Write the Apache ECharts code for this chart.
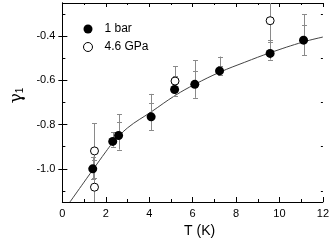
<!DOCTYPE html>
<html><head><meta charset="utf-8">
<script src="https://cdn.jsdelivr.net/npm/echarts@6/dist/echarts.min.js"></script>
<style>html,body{margin:0;padding:0;background:#fff}#c{width:332px;height:243px}</style>
</head><body><div id="c"></div>
<script>
// 1 bar (filled circles)
const filledT  = [1.40, 2.32, 2.59, 4.09, 5.17, 6.10, 7.24, 9.57, 11.11];
const filledV  = [-1.000, -0.876, -0.849, -0.765, -0.641, -0.618, -0.557, -0.478, -0.418];
const filledLo = [-1.048, -0.900, -0.913, -0.826, -0.669, -0.679, -0.575, -0.506, -0.486];
const filledHi = [-0.945, -0.835, -0.753, -0.661, -0.580, -0.509, -0.492, -0.417, -0.300];
const filledMid = [null, null, -0.790, -0.703, null, -0.558, -0.533, null, -0.351];
// 4.6 GPa (open circles)
const openT  = [1.48, 1.48, 5.19, 9.57];
const openV  = [-0.919, -1.083, -0.603, -0.330];
const openLo = [-1.040, -1.200, -0.669, -0.426];
const openHi = [-0.793, -0.960, -0.536, -0.200];
// fit curve
const fitT = [0.35, 1.0, 1.4, 2.0, 2.3, 3.0, 4.1, 5.2, 6.1, 7.25, 8.4, 9.57, 11.1, 12.0];
const fitV = [-1.150, -1.060, -1.005, -0.923, -0.885, -0.815, -0.742, -0.668, -0.618, -0.563, -0.518, -0.475, -0.426, -0.404];
// ticks
const xMajor = [0, 2, 4, 6, 8, 10, 12];
const yMajor = [-1.0, -0.8, -0.6, -0.4];
const yMinor = [-1.1, -0.9, -0.7, -0.5, -0.3];

const chart = echarts.init(document.getElementById('c'), null, {renderer: 'canvas'});
const FONT = 'Liberation Sans';
const ebColor = '#8a8a8a';

function ebRender(T, Lo, Hi, Mid) {
  return function (params, api) {
    const i = params.dataIndex;
    const cs = params.coordSys;
    const top = cs.y, bot = cs.y + cs.height;
    const pLo = api.coord([T[i], Lo[i]]);
    const pHi = api.coord([T[i], Hi[i]]);
    const x = Math.round(pLo[0]) + 0.5;
    const yl = Math.min(bot, Math.max(top, pLo[1]));
    const yh = Math.min(bot, Math.max(top, pHi[1]));
    const st = {stroke: ebColor, lineWidth: 1};
    const ch = [{type: 'line', shape: {x1: x, y1: yl, x2: x, y2: yh}, style: st}];
    const cap = (y) => ch.push({type: 'line', shape: {x1: x - 2.5, y1: y, x2: x + 2.5, y2: y}, style: st});
    if (pLo[1] <= bot && pLo[1] >= top) cap(Math.round(pLo[1]) + 0.5);
    if (pHi[1] <= bot && pHi[1] >= top) cap(Math.round(pHi[1]) + 0.5);
    if (Mid && Mid[i] != null) cap(Math.round(api.coord([T[i], Mid[i]])[1]) + 0.5);
    return {type: 'group', children: ch};
  };
}

const option = {
  animation: false,
  backgroundColor: '#fff',
  textStyle: {fontFamily: FONT},
  grid: {left: 48, right: 8, top: 3, bottom: 37},
  legend: {
    orient: 'vertical', left: 78, top: 18, itemGap: 6,
    itemWidth: 9, itemHeight: 9,
    textStyle: {fontFamily: FONT, fontSize: 12, color: '#000', padding: [0, 0, 0, 7]},
    data: [
      {name: '1 bar', icon: 'circle', itemStyle: {color: '#000', borderWidth: 0}},
      {name: '4.6 GPa', icon: 'circle', itemStyle: {color: '#fff', borderColor: '#000', borderWidth: 1}}
    ]
  },
  xAxis: [{
    type: 'value', min: 0, max: 12, interval: 2,
    name: 'T (K)', nameLocation: 'middle', nameGap: 22,
    nameTextStyle: {fontFamily: FONT, fontSize: 14, color: '#000', padding: [0, 0, 0, 14]},
    axisLine: {lineStyle: {color: '#000', width: 1}},
    axisTick: {inside: true, length: 5, lineStyle: {color: '#000'}},
    minorTick: {show: true, splitNumber: 2, length: 3, lineStyle: {color: '#000'}},
    axisLabel: {fontFamily: FONT, fontSize: 11, color: '#000', margin: 6,
      customValues: xMajor, formatter: v => String(v)},
    splitLine: {show: false}
  }, {
    type: 'value', min: 0, max: 12, interval: 2, position: 'top',
    axisLine: {lineStyle: {color: '#000', width: 1}},
    axisTick: {inside: true, length: 4, lineStyle: {color: '#000'}},
    minorTick: {show: true, splitNumber: 2, length: 2, lineStyle: {color: '#000'}},
    axisLabel: {show: false}, splitLine: {show: false}
  }],
  yAxis: [{
    type: 'value', min: -1.15, max: -0.25,
    name: '{g|γ}{s|1}', nameLocation: 'middle', nameGap: 30, nameRotate: 90,
    nameTextStyle: {color: '#000', padding: [0, 0, 0, 14],
      rich: {g: {fontFamily: 'DejaVu Serif', fontSize: 17, color: '#000'},
             s: {fontFamily: FONT, fontSize: 10, color: '#000', padding: [8, 0, 0, 0]}}},
    axisLine: {show: true, lineStyle: {color: '#000', width: 1}},
    axisTick: {show: true, inside: true, length: 5, customValues: yMajor, lineStyle: {color: '#000'}},
    axisLabel: {fontFamily: FONT, fontSize: 11, color: '#000', margin: 7,
      customValues: yMajor, formatter: v => v.toFixed(1)},
    splitLine: {show: false}
  }, {
    type: 'value', min: -1.15, max: -0.25, position: 'right',
    axisLine: {show: true, lineStyle: {color: '#000', width: 1}},
    axisTick: {show: true, inside: true, length: 4, customValues: yMajor, lineStyle: {color: '#000'}},
    axisLabel: {show: false}, splitLine: {show: false}
  }, {
    type: 'value', min: -1.15, max: -0.25, position: 'left',
    axisLine: {show: false},
    axisTick: {show: true, inside: true, length: 3, customValues: yMinor, lineStyle: {color: '#000'}},
    axisLabel: {show: false}, splitLine: {show: false}
  }, {
    type: 'value', min: -1.15, max: -0.25, position: 'right',
    axisLine: {show: false},
    axisTick: {show: true, inside: true, length: 2, customValues: yMinor, lineStyle: {color: '#000'}},
    axisLabel: {show: false}, splitLine: {show: false}
  }],
  series: [
    {name: 'fit', type: 'line', smooth: 0.4, symbol: 'none',
     lineStyle: {color: '#444', width: 1},
     data: fitT.map((t, i) => [t, fitV[i]]), z: 1},
    {name: 'eb4.6', type: 'custom', renderItem: ebRender(openT, openLo, openHi, null),
     data: openT.map((t, i) => [t, openV[i]]), z: 2, silent: true},
    {name: 'eb1', type: 'custom', renderItem: ebRender(filledT, filledLo, filledHi, filledMid),
     data: filledT.map((t, i) => [t, filledV[i]]), z: 2, silent: true},
    {name: '4.6 GPa', type: 'scatter', symbol: 'circle', symbolSize: 8,
     itemStyle: {color: '#fff', borderColor: '#000', borderWidth: 1, opacity: 1},
     data: openT.map((t, i) => [t, openV[i]]), z: 3},
    {name: '1 bar', type: 'scatter', symbol: 'circle', symbolSize: 9,
     itemStyle: {color: '#000', opacity: 1},
     data: filledT.map((t, i) => [t, filledV[i]]), z: 4}
  ]
};
chart.setOption(option);
</script></body></html>
